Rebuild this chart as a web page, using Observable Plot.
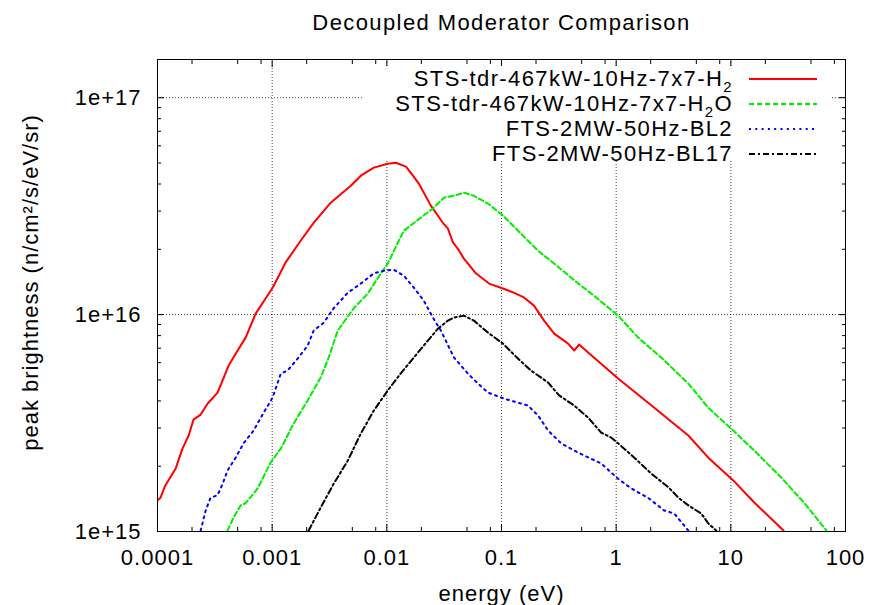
<!DOCTYPE html>
<html><head><meta charset="utf-8">
<script src="https://cdn.jsdelivr.net/npm/d3@7"></script>
<script src="https://cdn.jsdelivr.net/npm/@observablehq/plot@0.6"></script>
<style>
body{margin:0;background:#fff;}
#wrap{position:relative;width:870px;height:605px;overflow:hidden;font-family:"Liberation Sans",Arial,Helvetica,sans-serif;background:#fff;}
#legend{position:absolute;left:362px;top:66px;width:469px;height:94px;background:#fff;}
.lrow{position:absolute;right:98px;height:24px;line-height:24px;font-size:22px;letter-spacing:1.4px;white-space:nowrap;color:#000;}
.lrow sub{font-size:15px;vertical-align:-6px;line-height:0;}
.lsw{position:absolute;left:387px;width:68px;height:6px;}
</style></head><body><div id="wrap"></div>
<script>
// ---- data ----
const seriesNames = ["STS-tdr-467kW-10Hz-7x7-H<sub>2</sub>", "STS-tdr-467kW-10Hz-7x7-H<sub>2</sub>O", "FTS-2MW-50Hz-BL2", "FTS-2MW-50Hz-BL17"];
const seriesColors = ["#ff0000", "#00ee00", "#0000ff", "#000000"];
const seriesDash = [null, "5,3", "2,4.3", "6,3,2,3"];

const h2E = [1e-4,1.06e-4,1.17e-4,1.44e-4,1.65e-4,1.87e-4,2.06e-4,2.38e-4,2.74e-4,3.34e-4,4.17e-4,5.0e-4,5.87e-4,7.18e-4,1.01e-3,1.31e-3,1.77e-3,2.30e-3,3.24e-3,4.85e-3,5.93e-3,7.70e-3,1.02e-2,1.20e-2,1.47e-2,1.69e-2,1.90e-2,2.42e-2,3.08e-2,3.41e-2,3.77e-2,4.17e-2,4.70e-2,5.98e-2,7.78e-2,0.103,0.129,0.157,0.192,0.235,0.288,0.381,0.430,0.475,0.569,0.739,1.04,2.15,4.26,6.36,10.5,16.0,28.8];
const h2B = [1.39e15,1.43e15,1.63e15,1.95e15,2.41e15,2.77e15,3.28e15,3.46e15,3.89e15,4.37e15,5.82e15,6.83e15,7.83e15,1.01e16,1.33e16,1.74e16,2.19e16,2.65e16,3.28e16,3.93e16,4.37e16,4.76e16,4.96e16,5.01e16,4.81e16,4.37e16,4.02e16,3.18e16,2.65e16,2.49e16,2.15e16,2.01e16,1.81e16,1.55e16,1.39e16,1.32e16,1.26e16,1.20e16,1.10e16,9.38e15,8.17e15,7.35e15,6.83e15,7.28e15,6.68e15,5.94e15,5.07e15,3.72e15,2.77e15,2.19e15,1.72e15,1.36e15,1.01e15];

const h2oE = [4.08e-4,4.61e-4,5.31e-4,5.87e-4,7.47e-4,9.70e-4,1.19e-3,1.54e-3,2.04e-3,2.65e-3,3.11e-3,3.73e-3,5.15e-3,6.83e-3,8.87e-3,1.02e-2,1.27e-2,1.41e-2,1.98e-2,2.52e-2,3.15e-2,3.85e-2,4.70e-2,5.75e-2,7.62e-2,0.103,0.148,0.208,0.288,0.430,0.643,1.04,1.56,2.47,4.26,6.36,10.5,16.0,27.6,43.9,68.2];
const h2oB = [1.01e15,1.16e15,1.32e15,1.35e15,1.58e15,2.08e15,2.41e15,3.15e15,4.02e15,5.13e15,6.34e15,8.44e15,1.07e16,1.25e16,1.55e16,1.72e16,2.19e16,2.44e16,2.80e16,3.08e16,3.46e16,3.53e16,3.65e16,3.53e16,3.25e16,2.86e16,2.36e16,1.97e16,1.72e16,1.44e16,1.22e16,9.89e15,7.83e15,6.34e15,4.81e15,3.72e15,2.92e15,2.36e15,1.77e15,1.35e15,1.01e15];

const bl2E = [2.38e-4,2.63e-4,2.90e-4,3.34e-4,3.70e-4,4.08e-4,4.80e-4,5.63e-4,6.89e-4,8.43e-4,1.01e-3,1.19e-3,1.36e-3,1.67e-3,2.04e-3,2.30e-3,2.82e-3,3.44e-3,4.56e-3,5.93e-3,7.70e-3,9.80e-3,1.15e-2,1.41e-2,1.72e-2,2.10e-2,2.52e-2,2.96e-2,3.85e-2,5.09e-2,6.23e-2,7.62e-2,0.105,0.148,0.170,0.208,0.255,0.331,0.466,0.739,1.04,1.35,1.90,2.62,3.21,4.26];
const bl2B = [1.01e15,1.25e15,1.43e15,1.47e15,1.66e15,1.91e15,2.19e15,2.55e15,2.92e15,3.53e15,4.15e15,5.35e15,5.52e15,6.27e15,7.19e15,8.44e15,9.18e15,1.07e16,1.26e16,1.39e16,1.55e16,1.60e16,1.61e16,1.51e16,1.33e16,1.16e16,9.69e15,8.44e15,6.34e15,5.35e15,4.81e15,4.37e15,4.10e15,3.89e15,3.81e15,3.43e15,2.92e15,2.55e15,2.31e15,2.06e15,1.75e15,1.58e15,1.43e15,1.25e15,1.21e15,1.01e15];

const bl17E = [2.08e-3,2.65e-3,3.44e-3,4.56e-3,5.93e-3,7.70e-3,1.02e-2,1.32e-2,1.72e-2,2.28e-2,2.79e-2,3.41e-2,3.85e-2,4.70e-2,5.75e-2,7.62e-2,0.103,0.139,0.181,0.255,0.318,0.430,0.569,0.739,0.904,1.04,1.44,2.02,2.85,3.55,4.26,5.52,6.36,7.46];
const bl17B = [1.01e15,1.29e15,1.66e15,2.12e15,2.83e15,3.61e15,4.47e15,5.35e15,6.34e15,7.59e15,8.61e15,9.38e15,9.69e15,9.89e15,9.38e15,8.26e15,7.35e15,6.27e15,5.52e15,4.86e15,4.24e15,3.81e15,3.35e15,2.86e15,2.71e15,2.55e15,2.19e15,1.85e15,1.60e15,1.42e15,1.32e15,1.21e15,1.09e15,1.01e15];

const xMajor = [1e-4,1e-3,1e-2,1e-1,1,10,100];
const xMajorLabels = ["0.0001","0.001","0.01","0.1","1","10","100"];
const xMinor = [2e-4,5e-4,8e-4,2e-3,5e-3,8e-3,2e-2,5e-2,8e-2,0.2,0.5,0.8,2,5,8,20,50,80];
const yMajor = [1e15,1e16,1e17];
const yMajorLabels = ["1e+15","1e+16","1e+17"];
const yMinor = [2e15,3e15,4e15,5e15,6e15,7e15,8e15,9e15,2e16,3e16,4e16,5e16,6e16,7e16,8e16,9e16];

const titleText = "Decoupled Moderator Comparison";
const xLabel = "energy (eV)";
const yLabel = "peak brightness (n/cm²/s/eV/sr)";

// ---- build ----
const seriesE = [h2E, h2oE, bl2E, bl17E];
const seriesB = [h2B, h2oB, bl2B, bl17B];
const lineMarks = seriesE.map((E, s) => Plot.line(E.map((e, i) => ({E: e, B: seriesB[s][i]})), {
  x: "E", y: "B", stroke: seriesColors[s], strokeWidth: 2,
  strokeDasharray: seriesDash[s] || undefined, strokeLinejoin: "round", clip: true
}));
const blank = () => "";
const fx = d => xMajorLabels[xMajor.indexOf(d)];
const fy = d => yMajorLabels[yMajor.indexOf(d)];
const gridStyle = {stroke: "#000", strokeOpacity: 0.75, strokeDasharray: "1,2", strokeWidth: 1};

const chart = Plot.plot({
  width: 870, height: 605,
  marginLeft: 157, marginRight: 25, marginTop: 59, marginBottom: 74,
  style: {fontFamily: "'Liberation Sans', Arial, Helvetica, sans-serif", fontSize: "22px", letterSpacing: "1px", background: "#fff", color: "#000"},
  x: {type: "log", domain: [1e-4, 100]},
  y: {type: "log", domain: [1e15, 1.5e17]},
  marks: [
    Plot.gridX(xMajor.slice(1, -1), gridStyle),
    Plot.gridY(yMajor.slice(1), gridStyle),
    ...lineMarks,
    Plot.axisX(xMajor, {tickSize: 0, tickPadding: 18, tickFormat: fx, label: null}),
    Plot.axisX(xMajor, {tickSize: -7, tickFormat: blank, label: null}),
    Plot.axisX(xMinor, {tickSize: -4, tickFormat: blank, label: null}),
    Plot.axisX(xMajor, {anchor: "top", tickSize: -7, tickFormat: blank, label: null}),
    Plot.axisX(xMinor, {anchor: "top", tickSize: -4, tickFormat: blank, label: null}),
    Plot.axisY(yMajor, {tickSize: 0, tickPadding: 16, tickFormat: fy, label: null}),
    Plot.axisY(yMajor, {tickSize: -7, tickFormat: blank, label: null}),
    Plot.axisY(yMinor, {tickSize: -4, tickFormat: blank, label: null}),
    Plot.axisY(yMajor, {anchor: "right", tickSize: -7, tickFormat: blank, label: null}),
    Plot.axisY(yMinor, {anchor: "right", tickSize: -4, tickFormat: blank, label: null}),
    Plot.frame({stroke: "#000", strokeWidth: 1}),
    Plot.text([titleText], {text: d => d, frameAnchor: "top", dy: -37, lineAnchor: "middle", textAnchor: "middle", fontSize: 22, style: {letterSpacing: "1.4px"}}),
    Plot.text([xLabel], {text: d => d, frameAnchor: "bottom", dy: 62, lineAnchor: "middle", textAnchor: "middle", fontSize: 22}),
    Plot.text([yLabel], {text: d => d, frameAnchor: "left", dx: -127, dy: -13, rotate: -90, lineAnchor: "middle", textAnchor: "middle", fontSize: 22})
  ]
});
const wrap = document.getElementById("wrap");
wrap.appendChild(chart);
// title letter spacing
chart.querySelectorAll("text").forEach(t => { if (t.textContent === titleText) t.style.letterSpacing = "1.4px"; });

// legend overlay (white key box like gnuplot)
const legend = document.createElement("div");
legend.id = "legend";
const rowCenters = [13, 38, 63, 88];
seriesNames.forEach((name, s) => {
  const t = document.createElement("div");
  t.className = "lrow";
  t.style.top = (rowCenters[s] - 12) + "px";
  t.innerHTML = name;
  legend.appendChild(t);
  const sw = document.createElementNS("http://www.w3.org/2000/svg", "svg");
  sw.setAttribute("class", "lsw");
  sw.setAttribute("width", 68); sw.setAttribute("height", 6);
  sw.style.top = (rowCenters[s] - 3) + "px";
  const ln = document.createElementNS("http://www.w3.org/2000/svg", "line");
  ln.setAttribute("x1", 0); ln.setAttribute("x2", 68); ln.setAttribute("y1", 3); ln.setAttribute("y2", 3);
  ln.setAttribute("stroke", seriesColors[s]); ln.setAttribute("stroke-width", 2);
  if (seriesDash[s]) ln.setAttribute("stroke-dasharray", seriesDash[s]);
  sw.appendChild(ln);
  legend.appendChild(sw);
});
wrap.appendChild(legend);
</script></body></html>
